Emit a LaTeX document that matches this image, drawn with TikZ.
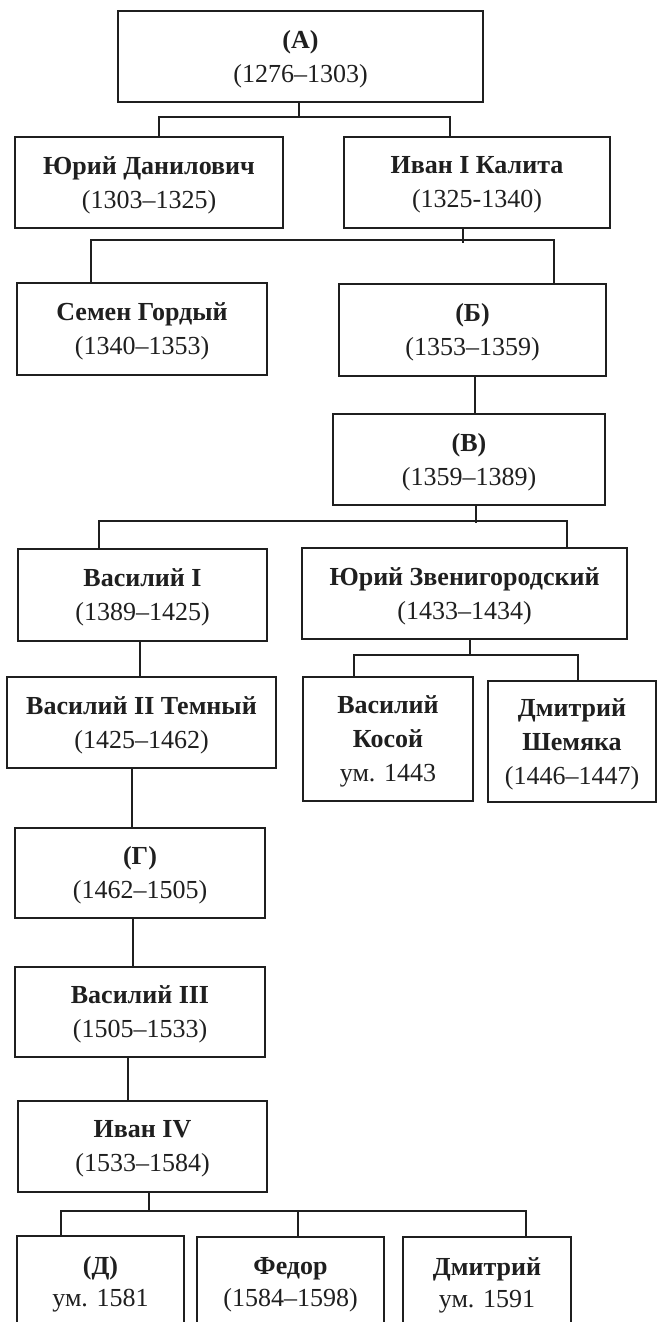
\documentclass[tikz,border=0pt]{standalone}
\usepackage{fontspec}
\setmainfont{Liberation Serif}
\definecolor{ink}{gray}{0.12}
\tikzset{
  famnode/.style={draw=ink, line width=1.4pt, inner sep=0pt},
  famtext/.style={inner sep=0pt, align=center, text=ink, font=\fontsize{26}{34}\selectfont},
  tightlines/.style={font=\fontsize{26}{32}\selectfont},
  link/.style={draw=ink, line width=1.2pt},
}
\newcommand{\famboxx}[7][]{%
  \pgfmathsetmacro\fbxc{(#3+#5)/2}%
  \pgfmathsetmacro\fbyc{(#4+#6)/2}%
  \pgfmathsetmacro\fbxw{#5-#3}%
  \pgfmathsetmacro\fbxh{#6-#4}%
  \node[famnode, minimum width=\fbxw pt, minimum height=\fbxh pt] (#2) at (\fbxc,\fbyc) {};
  \node[famtext, #1] (#2-t) at ([yshift=-2.5pt]#2.center) {#7};}
\begin{document}
\begin{tikzpicture}[x=1pt,y=-1pt]
\useasboundingbox (0,0) rectangle (662,1322);
\fill[white] (0,0) rectangle (662,1322);
\clip (0,0) rectangle (662,1322);

% boxes
\famboxx{nA}{118}{11}{483}{102}{\textbf{(А)}\\(1276–1303)}
\famboxx{nYuri}{15}{137}{283}{228}{\textbf{Юрий Данилович}\\(1303–1325)}
\famboxx{nIvanI}{344}{137}{610}{228}{\textbf{Иван I Калита}\\(1325-1340)}
\famboxx{nSemen}{17}{283}{267}{375}{\textbf{Семен Гордый}\\(1340–1353)}
\famboxx{nB}{339}{284}{606}{376}{\textbf{(Б)}\\(1353–1359)}
\famboxx{nV}{333}{414}{605}{505}{\textbf{(В)}\\(1359–1389)}
\famboxx{nVasI}{18}{549}{267}{641}{\textbf{Василий I}\\(1389–1425)}
\famboxx{nYuZv}{302}{548}{627}{639}{\textbf{Юрий Звенигородский}\\(1433–1434)}
\famboxx{nVasII}{7}{677}{276}{768}{\textbf{Василий II Темный}\\(1425–1462)}
\famboxx{nKosoy}{303}{677}{473}{801}{\textbf{Василий}\\\textbf{Косой}\\ум. 1443}
\famboxx{nShem}{488}{681}{656}{802}{\textbf{Дмитрий}\\\textbf{Шемяка}\\(1446–1447)}
\famboxx{nG}{15}{828}{265}{918}{\textbf{(Г)}\\(1462–1505)}
\famboxx{nVasIII}{15}{967}{265}{1057}{\textbf{Василий III}\\(1505–1533)}
\famboxx{nIvanIV}{18}{1101}{267}{1192}{\textbf{Иван IV}\\(1533–1584)}
\famboxx[tightlines]{nD}{17}{1236}{184}{1328}{\textbf{(Д)}\\ум. 1581}
\famboxx[tightlines]{nFedor}{197}{1237}{384}{1328}{\textbf{Федор}\\(1584–1598)}
\famboxx[tightlines]{nDmitry}{403}{1237}{571}{1328}{\textbf{Дмитрий}\\ум. 1591}

% junction points
\coordinate (jA) at (299,117);
\coordinate (jI) at (463,240);
\coordinate (jV) at (476,521);
\coordinate (jY) at (470,655);
\coordinate (jIV) at (149,1211);
\coordinate (jF) at (298,1211);

% A -> Yuri, Ivan I
\draw[link] (nA.south -| jA) -- (jA);
\draw[link] (nYuri.north -| 159,0) |- (jA) -| (nIvanI.north -| 450,0);
% Ivan I -> Semen, B
\draw[link] (nIvanI.south -| jI) -- ([yshift=-3pt]jI);
\draw[link] (nSemen.north -| 91,0) |- (jI) -| (nB.north -| 554,0);
% B -> V
\draw[link] (nB.south -| 475,0) -- (nV.north -| 475,0);
% V -> Vasily I, Yuri Zv
\draw[link] (nV.south -| jV) -- ([yshift=-2pt]jV);
\draw[link] (nVasI.north -| 99,0) |- (jV) -| (nYuZv.north -| 567,0);
% Yuri Zv -> Kosoy, Shemyaka
\draw[link] (nYuZv.south -| jY) -- (jY);
\draw[link] (nKosoy.north -| 354,0) |- (jY) -| (nShem.north -| 578,0);
% chain
\draw[link] (nVasI.south -| 140,0) -- (nVasII.north -| 140,0);
\draw[link] (nVasII.south -| 132,0) -- (nG.north -| 132,0);
\draw[link] (nG.south -| 133,0) -- (nVasIII.north -| 133,0);
\draw[link] (nVasIII.south -| 128,0) -- (nIvanIV.north -| 128,0);
% Ivan IV -> D, Fedor, Dmitry
\draw[link] (nIvanIV.south -| jIV) -- (jIV);
\draw[link] (nD.north -| 61,0) |- (jIV) -| (nDmitry.north -| 526,0);
\draw[link] (nFedor.north -| jF) -- (jF);
\end{tikzpicture}
\end{document}
